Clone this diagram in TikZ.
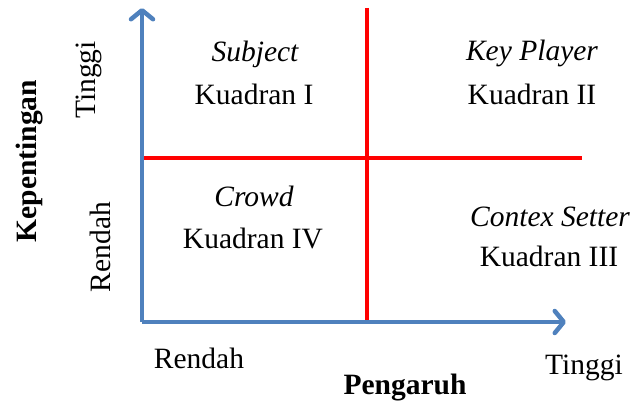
\documentclass[tikz,border=0pt]{standalone}
\usepackage{fontspec}
\setmainfont{Liberation Serif}
\usetikzlibrary{arrows.meta}
\definecolor{axisblue}{RGB}{79,129,189}
\begin{document}
\begin{tikzpicture}[x=1pt,y=-1pt,
  lbl/.style={inner sep=0pt,anchor=base,font=\fontsize{29.5}{35}\selectfont},
  blbl/.style={lbl,font=\fontsize{29.5}{35}\selectfont\bfseries},
  axisline/.style={draw=axisblue,line width=4.5pt,-{Straight Barb[length=9pt,width=22pt,line cap=round,line join=round]}},
  divline/.style={draw=red,line width=3.6pt}]
\useasboundingbox (0,0) rectangle (635,403);
\coordinate (O) at (142,322);
\coordinate (Ytop) at (142,8);
\coordinate (Xend) at (566,322);
\coordinate (Vtop) at (367,8);
\coordinate (Vbot) at (367,322);
\coordinate (Hl) at (142,158);
\coordinate (Hr) at (582,158);
\draw[divline] (Vtop) -- (Vbot);
\draw[divline] (Hl) -- (Hr);
\draw[axisline] (O) -- (Ytop);
\draw[axisline] (O) -- (Xend);
\node[lbl] (s1) at (255,62) {\itshape Subject};
\node[lbl] (k1) at (254,105) {Kuadran I};
\node[lbl] (s2) at (532,61) {\itshape Key Player};
\node[lbl] (k2) at (532,105) {Kuadran II};
\node[lbl] (s4) at (254,207) {\itshape Crowd};
\node[lbl] (k4) at (253,249) {Kuadran IV};
\node[lbl] (s3) at (550,227) {\itshape Contex Setter};
\node[lbl] (k3) at (549,267) {Kuadran III};
\node[lbl,rotate=90] (yt) at (95,80) {Tinggi};
\node[lbl,rotate=90] (yr) at (110,247) {Rendah};
\node[blbl,rotate=90] (yl) at (36,161) {Kepentingan};
\node[lbl] (xr) at (199,369) {Rendah};
\node[lbl] (xt) at (584,375) {Tinggi};
\node[blbl] (xl) at (405,395) {Pengaruh};
\end{tikzpicture}
\end{document}
